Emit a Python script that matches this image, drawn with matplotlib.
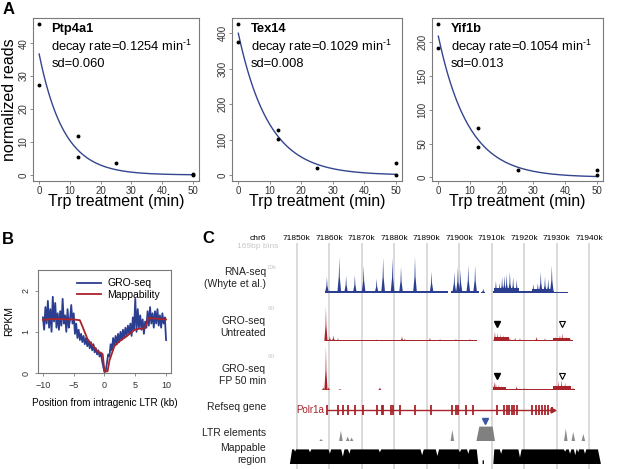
import numpy as np
import matplotlib

matplotlib.use("Agg")
import matplotlib.pyplot as plt

plt.rcParams["font.family"] = ["Liberation Sans", "DejaVu Sans"]
plt.rcParams["mathtext.fontset"] = "custom"
plt.rcParams["mathtext.rm"] = "Liberation Sans"
plt.rcParams["mathtext.it"] = "Liberation Sans:italic"
plt.rcParams["mathtext.bf"] = "Liberation Sans:bold"

W, H = 617, 469

# ---------------- panel A data ----------------
decay_genes = ["Ptp4a1", "Tex14", "Yif1b"]
decay_rates = [0.1254, 0.1029, 0.1054]
decay_sd = ["0.060", "0.008", "0.013"]
fit_start = [36.7, 400.0, 209.0]
trp_time = [0, 0, 12.5, 12.5, 25, 50, 50]
ptp4a1_reads = [45.8, 27.3, 11.9, 5.6, 3.7, 0.2, 0.0]
tex14_reads = [426, 375, 126, 101, 20.5, 35.5, 0.5]
yif1b_reads = [227, 192, 72.7, 44.4, 10.2, 10.2, 3.4]
decay_reads = [ptp4a1_reads, tex14_reads, yif1b_reads]
decay_yticks = [[0, 10, 20, 30, 40], [0, 100, 200, 300, 400], [0, 50, 100, 150, 200]]

# ---------------- panel B data ----------------
ltr_pos = np.linspace(-10, 10, 101)
gro_rpkm = [
    1.35, 1.05, 1.60, 1.20, 1.75, 1.10, 1.55, 1.00, 1.85, 1.25,
    1.70, 1.10, 1.45, 1.05, 1.50, 1.15, 1.80, 1.20, 1.40, 1.00,
    1.55, 1.10, 1.30, 1.65, 1.20, 1.45, 0.95, 1.20, 0.85, 1.05,
    0.80, 0.95, 0.75, 0.90, 0.70, 0.85, 0.65, 0.80, 0.60, 0.75,
    0.55, 0.70, 0.50, 0.60, 0.45, 0.55, 0.40, 0.50, 0.30, 0.15,
    0.02, 0.05, 0.25, 0.45, 0.40, 0.70, 0.55, 0.85, 0.65, 0.90,
    0.70, 0.95, 0.75, 1.00, 0.80, 1.05, 0.85, 1.10, 0.90, 1.15,
    0.95, 1.20, 0.90, 1.35, 1.05, 1.80, 1.00, 1.55, 1.10, 1.40,
    1.05, 1.30, 0.95, 1.25, 1.10, 1.50, 1.15, 1.60, 1.20, 1.45,
    1.10, 1.50, 1.20, 1.55, 1.15, 1.40, 1.10, 1.45, 1.20, 1.35,
    0.80,
]
map_pos = [-10, -8.5, -5, -4.0, -3.5, -2.7, -1.5, -1.1, -0.55, -0.3, 0.0, 0.5, 0.8,
           1.6, 2.5, 3.5, 4.9, 5.5, 6.6, 7.1, 8.5, 10]
map_rpkm = [1.29, 1.31, 1.30, 1.28, 1.10, 0.80, 0.60, 0.52, 0.48, 0.46, 0.04, 0.04, 0.30,
            0.65, 0.78, 0.88, 1.05, 1.07, 1.09, 1.33, 1.32, 1.30]

# ---------------- panel C data ----------------
chrom_ticks = [71850, 71860, 71870, 71880, 71890, 71900, 71910, 71920, 71930, 71940]

rna_peak_kb = [71859.3, 71863.1, 71865.2, 71867.9, 71870.6, 71874.6, 71876.6, 71879.5,
               71882.1, 71886.4, 71891.5, 71898.5, 71899.6, 71900.4, 71902.8, 71904.9,
               71907.4, 71911.3, 71912.4, 71913.2, 71913.9, 71914.6, 71915.6, 71916.6,
               71917.7, 71922.8, 71924.2, 71925.1, 71926.4, 71927.4, 71928.5]
rna_peak_val = [6200, 14000, 6800, 7000, 10700, 5600, 13800, 13600,
                10300, 14000, 8400, 8200, 10100, 9000, 10700, 10700,
                1750, 4700, 3900, 6200, 6800, 7400, 8200, 6200,
                5100, 3500, 3900, 8200, 6200, 5400, 10700]
rna_base = [(71858.8, 71896.5, 600), (71897.5, 71906.0, 900), (71906.8, 71908.0, 400),
            (71910.5, 71929.2, 700), (71910.8, 71918.3, 1900), (71922.3, 71929.0, 1500),
            (71929.2, 71933.5, 250)]

gro_un_kb = [71859.0, 71860.2, 71861.3, 71862.7, 71874.6, 71882.4, 71883.3, 71891.0,
             71894.1, 71899.0, 71903.3, 71911.0, 71911.8, 71912.6, 71913.6, 71914.6,
             71915.6, 71917.2, 71918.7, 71923.8, 71926.4, 71929.5, 71931.0, 71931.7,
             71932.9, 71934.1]
gro_un_val = [65, 9, 11, 5, 3, 9, 5, 6,
              4, 4, 4, 17, 15, 13, 11, 8,
              6, 6, 5, 8, 5, 8, 11, 14,
              8, 5]
gro_un_base = [(71858.6, 71905.4, 2.2), (71910.8, 71935.0, 2.8), (71910.8, 71915.2, 7.5),
               (71929.0, 71934.0, 5.5)]

gro_fp_kb = [71858.2, 71859.0, 71859.8, 71863.3, 71875.6, 71910.8, 71911.3, 71912.2,
             71913.1, 71914.1, 71917.7, 71920.2, 71929.5, 71930.5, 71931.5, 71932.6,
             71933.8, 71935.0]
gro_fp_val = [5, 77.6, 5, 2, 5, 15, 12, 9,
              7, 5, 7, 3.5, 9, 15, 17.6, 13,
              9, 4.5]
gro_fp_base = [(71910.5, 71935.5, 2.5), (71910.5, 71914.5, 5.5), (71928.8, 71934.5, 7.5)]

polr1a_exons = [71859.2, 71862.8, 71864.2, 71865.9, 71867.9, 71870.5, 71874.6, 71876.2,
                71876.6, 71878.9, 71879.7, 71881.8, 71886.4, 71891.3, 71897.9, 71898.9,
                71899.7, 71902.0, 71904.3, 71911.5, 71913.9, 71914.6, 71915.3, 71916.2,
                71917.0, 71917.7, 71922.5, 71923.5, 71924.6, 71925.4, 71926.4, 71927.4]
polr1a_span = (71859.2, 71929.0)

ltr_kb = [71857.5, 71863.6, 71865.7, 71866.9, 71897.9, 71932.8, 71935.1, 71938.2]
ltr_height = [2, 10.3, 4.3, 3.3, 11, 12.3, 9, 7]
ltr_block_x = [71905.3, 71906.2, 71910.3, 71911.0]
ltr_block_y = [0, 14.4, 14.4, 0]

mappable_kb = [71847.9, 71848.6, 71849.2, 71849.5, 71849.8, 71853.7, 71854.1, 71854.5,
               71859.8, 71860.2, 71860.6, 71863.7, 71864.2, 71864.7, 71865.8, 71866.2,
               71866.6, 71875.2, 71875.6, 71876.0, 71888.1, 71888.6, 71889.1, 71892.8,
               71893.3, 71893.8, 71899.8, 71900.2, 71900.6, 71902.4, 71902.8, 71903.2,
               71905.4, 71905.9,
               71907.2, 71907.2, 71907.6, 71907.6,
               71910.5, 71910.8, 71912.5, 71912.9, 71913.3, 71918.2, 71918.7, 71919.2,
               71932.2, 71932.6, 71933.0, 71933.7, 71934.1, 71934.5, 71935.3, 71935.7,
               71936.1, 71936.3, 71936.6, 71936.9, 71938.3, 71938.7, 71939.1, 71942.7,
               71943.6]
mappable_val = [0, 1, 1, 0.85, 1, 1, 0.8, 1,
                1, 0.7, 1, 1, 0.5, 1, 1, 0.7,
                1, 1, 0.8, 1, 1, 0.6, 1, 1,
                0.55, 1, 1, 0.8, 1, 1, 0.7, 1,
                1, 0,
                0, 0.25, 0.25, 0,
                0, 1, 1, 0.7, 1, 1, 0.45, 1,
                1, 0.85, 1, 1, 0.7, 1, 1, 0.6,
                1, 1, 0.8, 1, 1, 0.7, 1, 1,
                0]

gro_mark_kb = [71911.5, 71931.5]

blue = "#2c3e8f"
red = "#a8232a"
box_grey = "#7a7a7a"
text_grey = "#333333"

fig = plt.figure(figsize=(W / 100, H / 100), dpi=100)


def px_axes(left, top, right, bottom):
    return fig.add_axes([left / W, 1 - bottom / H, (right - left) / W, (bottom - top) / H])


def ftext(x, y, s, **kw):
    fig.text(x / W, 1 - y / H, s, **kw)


def r_style(ax, size, pad=1.5):
    for sp in ax.spines.values():
        sp.set_color(box_grey)
        sp.set_linewidth(0.8)
    ax.tick_params(direction="out", length=2.5, width=0.6, color=box_grey,
                   labelsize=size, labelcolor=text_grey, pad=pad)
    for lab in ax.get_yticklabels():
        lab.set_rotation(90)
        lab.set_va("center")


# ---------------- panel A ----------------
boxes = [(33, 18, 199, 181), (232, 18, 402, 181), (432, 18, 603, 181)]
t_fit = np.linspace(0, 50, 200)
for i, (l, t, r, b) in enumerate(boxes):
    ax = px_axes(l, t, r, b)
    ax.plot(t_fit, fit_start[i] * np.exp(-decay_rates[i] * t_fit), color="#34458f", lw=1.0)
    ax.plot(trp_time, decay_reads[i], "o", color="black", ms=1.8)
    lo, hi = min(decay_reads[i]), max(decay_reads[i])
    pad = (hi - lo) * 0.04
    ax.set_ylim(lo - pad, hi + pad)
    ax.set_xlim(-2, 52)
    ax.set_xticks([0, 10, 20, 30, 40, 50])
    ax.set_yticks(decay_yticks[i])
    r_style(ax, 7, pad=0.8)
    ax.set_xlabel("Trp treatment (min)", fontsize=11.5, labelpad=-1, color="black")
    ax.text(0.11, 0.93, decay_genes[i], transform=ax.transAxes, fontsize=9.3,
            fontweight="bold", va="center")
    ax.text(0.11, 0.825, r"decay rate=%.4f min$^{\text{-1}}$" % decay_rates[i],
            transform=ax.transAxes, fontsize=9.3, va="center")
    ax.text(0.11, 0.72, "sd=" + decay_sd[i], transform=ax.transAxes, fontsize=9.3,
            va="center")
    if i == 0:
        ax.set_ylabel("normalized reads", fontsize=11.5, labelpad=1)

ftext(3, 2, "A", fontsize=12, fontweight="bold", va="top")

# ---------------- panel B ----------------
axb = px_axes(38, 270, 171, 373)
axb.plot(ltr_pos, gro_rpkm, color=blue, lw=1.3, label="GRO-seq")
axb.plot(map_pos, map_rpkm, color=red, lw=1.3, label="Mappability")
axb.set_xlim(-10.8, 10.8)
axb.set_ylim(0, 2.5)
axb.set_xticks([-10, -5, 0, 5, 10])
axb.set_yticks([0, 1, 2])
r_style(axb, 6.5, pad=3)
axb.set_xlabel("Position from intragenic LTR (kb)", fontsize=7.2, labelpad=6)
axb.set_ylabel("RPKM", fontsize=7.5, labelpad=5)
axb.legend(loc="upper left", bbox_to_anchor=(0.24, 0.99), frameon=False, fontsize=7.5,
           handlelength=2.3, handletextpad=0.6, labelspacing=0.15, borderpad=0.2)
ftext(2, 232, "B", fontsize=12, fontweight="bold", va="top")

# ---------------- panel C ----------------
kb0 = 71850 + (270 - 296.7) / 3.25
kb1 = 71850 + (617 - 296.7) / 3.25


def track(top, bottom, ymax):
    ax = px_axes(270, top, 617, bottom)
    ax.set_xlim(kb0, kb1)
    ax.set_ylim(0, ymax)
    ax.axis("off")
    ax.patch.set_visible(False)
    return ax


def draw_peaks(ax, pos, vals, hw, color):
    for p, v in zip(pos, vals):
        ax.fill([p - hw, p - hw * 0.25, p, p + hw * 0.25, p + hw],
                [0, v * 0.45, v, v * 0.45, 0], color=color, lw=0)


def draw_base(ax, segs, color):
    for a, b, lev in segs:
        ax.fill_between([a, b], 0, lev, color=color, lw=0)


bg = track(243, 469, 1)
bg.vlines(chrom_ticks, 0, 1, color="#d4d4d4", lw=1.2)
for tk in chrom_ticks:
    bg.text(tk, 1.022, "%dk" % tk, ha="center", va="center", fontsize=6,
            transform=bg.get_xaxis_transform(), clip_on=False)
ftext(258, 238, "chr6", fontsize=6, ha="center", va="center")
ftext(278, 247, "169bp bins", fontsize=6, ha="right", va="center", color="#c8c8c8")
ftext(202, 231, "C", fontsize=12, fontweight="bold", va="top")

rna = track(252, 293, 41 / 25.7 * 10000)
draw_base(rna, rna_base, blue)
draw_peaks(rna, rna_peak_kb, rna_peak_val, 0.6, blue)
ftext(277, 267, "10k", fontsize=4.5, ha="right", va="center", color="#c8c8c8")

gro_un = track(303, 341, 38 * 1.875)
draw_base(gro_un, gro_un_base, red)
draw_peaks(gro_un, gro_un_kb, gro_un_val, 0.5, red)
gro_un.plot(gro_mark_kb[0], 32, "v", color="black", ms=4)
gro_un.plot(gro_mark_kb[1], 32, "v", mfc="white", mec="black", ms=4.5, mew=0.8)
ftext(275, 309, "60", fontsize=4.5, ha="right", va="center", color="#c8c8c8")

gro_fp = track(344, 390, 46 * 1.765)
draw_base(gro_fp, gro_fp_base, red)
draw_peaks(gro_fp, gro_fp_kb, gro_fp_val, 0.5, red)
gro_fp.plot(gro_mark_kb[0], 24.7, "v", color="black", ms=4)
gro_fp.plot(gro_mark_kb[1], 24.7, "v", mfc="white", mec="black", ms=4.5, mew=0.8)
ftext(275, 356, "60", fontsize=4.5, ha="right", va="center", color="#c8c8c8")

gene = track(398, 422, 1)
gene.hlines(0.5, polr1a_span[0], polr1a_span[1], color=red, lw=1.0)
gene.vlines(polr1a_exons, 0.31, 0.69, color=red, lw=1.3)
gene.fill_between([polr1a_span[1] - 0.9, polr1a_span[1]], 0.36, 0.64, color=red, lw=0)
gene.plot(polr1a_span[1], 0.5, ">", color=red, ms=3.5)
gene.text(polr1a_span[0] - 0.8, 0.5, "Polr1a", color=red, fontsize=7, ha="right",
          va="center")

ltr = track(415, 441, 26)
for p, h in zip(ltr_kb, ltr_height):
    ltr.fill([p - 0.55, p, p + 0.55], [0, h, 0], color="#8a8a8a", lw=0)
ltr.fill(ltr_block_x, ltr_block_y, color="#808080", lw=0)
ltr.plot(71907.9, 20, "v", color="#3b55a5", ms=4.5)

mapp = track(445, 464, 19 / 14.6)
mapp.fill(mappable_kb, mappable_val, color="black", lw=0)

labels = [("RNA-seq\n(Whyte et al.)", 278), ("GRO-seq\nUntreated", 327),
          ("GRO-seq\nFP 50 min", 375), ("Refseq gene", 407), ("LTR elements", 433),
          ("Mappable\nregion", 454)]
for s, y in labels:
    ftext(266, y, s, fontsize=7.5, ha="right", va="center", linespacing=1.15,
          color="#222222")

fig.savefig("out.png", dpi=100)
